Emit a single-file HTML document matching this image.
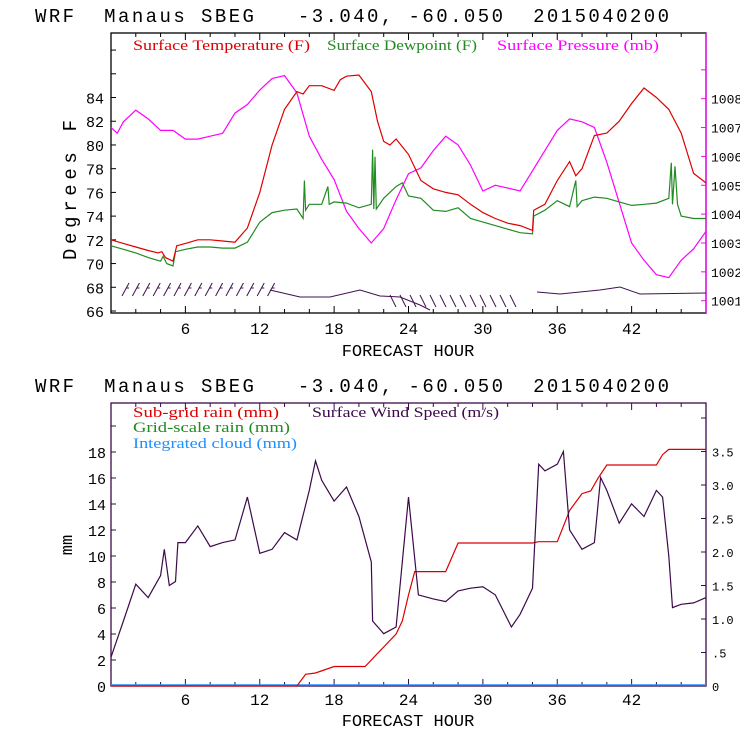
<!DOCTYPE html>
<html><head><meta charset="utf-8"><style>
body{margin:0;background:#fff;width:740px;height:740px;overflow:hidden}
svg text{font-family:"Liberation Mono",monospace}
.lg{font-family:"Liberation Serif",serif;font-size:15px}
.ttl{white-space:pre}
</style></head><body>
<svg id="c" width="740" height="740" xmlns="http://www.w3.org/2000/svg"></svg>
<script>
const tempHours=[0,1,2,3,3.8,4.1,4.4,5,5.1,5.3,6,7,8,9,10,11,12,13,14,15,15.5,16,17,18,18.5,19,20,21,21.5,22,22.5,23,24,25,26,27,28,29,30,31,32,33,34,34.1,35,36,37,37.5,38,39,40,41,42,43,44,45,46,47,48];
const tempVals=[72,71.7,71.4,71.1,70.9,71,70.5,70.2,70.6,71.5,71.7,72,72,71.9,71.8,73,76,80,83,84.5,84.3,85,85,84.6,85.5,85.8,85.9,84.5,82,80.3,80,80.5,79.2,77,76.3,76,75.8,75,74.3,73.8,73.4,73.2,72.8,74.5,75,77,78.6,77.4,78,80.8,81,82,83.5,84.8,84,83,81,77.6,76.8];
const dewHours=[0,1,2,3,4,4.2,4.5,5,5.2,6,7,8,9,10,11,12,13,14,15,15.5,15.6,15.7,16,17,17.5,17.6,18,19,20,21,21.1,21.2,21.3,21.4,22,23,23.5,24,25,26,27,28,29,30,31,32,33,34,34.1,35,36,37,37.5,37.6,38,39,40,41,42,43,44,45,45.2,45.3,45.5,45.7,46,47,48];
const dewVals=[71.5,71.2,70.9,70.5,70.2,70.6,70,69.8,71,71.2,71.4,71.4,71.3,71.3,71.8,73.5,74.3,74.5,74.6,73.8,77,74.5,75,75,76.5,75,75.2,75.1,74.7,75,79.6,74.6,79,74.6,75.5,76.5,76.8,75.7,75.5,74.5,74.4,74.7,73.8,73.5,73.2,72.9,72.6,72.5,74,74.5,75.3,74.8,77,74.8,75.3,75.6,75.5,75.2,74.9,75,75.1,75.5,78.5,75,78.2,75,74,73.8,73.8];
const presHours=[0,0.5,1,2,3,4,5,6,7,8,9,10,11,12,13,14,15,16,17,18,19,20,21,22,23,24,25,26,27,28,29,30,31,32,33,34,35,36,37,38,39,40,41,42,43,44,45,46,47,48];
const presVals=[1007.0,1006.8,1007.2,1007.6,1007.3,1006.9,1006.9,1006.6,1006.6,1006.7,1006.8,1007.5,1007.8,1008.3,1008.7,1008.8,1008.2,1006.7,1005.9,1005.2,1004.1,1003.5,1003.0,1003.5,1004.5,1005.4,1005.6,1006.2,1006.7,1006.4,1005.7,1004.8,1005.0,1004.9,1004.8,1005.5,1006.2,1006.9,1007.3,1007.2,1007.0,1005.8,1004.4,1003.0,1002.4,1001.9,1001.8,1002.4,1002.8,1003.4];
const windHours=[0,1,2,3,4,4.3,4.7,5.2,5.4,6,7,8,9,10,11,12,13,14,15,16,16.5,17,18,19,20,21,21.1,22,23,24,24.8,26,27,28,29,30,31,32.3,33,34,34.5,35,36,36.5,37,38,39,39.5,40,41,42,43,44,44.5,45,45.3,46,47,48];
const windVals=[0.43,0.97,1.52,1.32,1.65,2.04,1.5,1.56,2.14,2.14,2.39,2.08,2.14,2.18,2.82,1.98,2.04,2.29,2.18,2.92,3.36,3.07,2.76,2.97,2.53,1.85,0.97,0.78,0.88,2.82,1.36,1.3,1.26,1.42,1.46,1.48,1.36,0.88,1.07,1.46,3.31,3.21,3.31,3.5,2.33,2.04,2.14,3.11,2.92,2.43,2.72,2.53,2.92,2.82,1.94,1.17,1.22,1.24,1.32];
const rainHours=[0,15,15.7,16.5,18,20.5,22,23,23.5,24,24.5,27,28,34,34.5,36,37,38,38.7,39.3,40,44,44.5,45,48];
const rainVals=[0,0,0.9,1,1.5,1.5,3,4,5,7,8.8,8.8,11,11,11.1,11.1,13.5,14.8,15,16,17,17,17.8,18.2,18.2];
const xLabels=[6,12,18,24,30,36,42];
const tempTicks=[66,68,70,72,74,76,78,80,82,84];
const presTicks=[1001,1002,1003,1004,1005,1006,1007,1008];
const mmTicks=[0,2,4,6,8,10,12,14,16,18];
const msTicks=["0",".5","1.0","1.5","2.0","2.5","3.0","3.5"];

const S=document.getElementById('c');const NS='http://www.w3.org/2000/svg';
function el(t,a,txt){const e=document.createElementNS(NS,t);for(const k in a)e.setAttribute(k,a[k]);if(txt!==undefined)e.textContent=txt;S.appendChild(e);return e;}
const X0=111,X1=706;
const x=h=>X0+h*(X1-X0)/48;
const yT=v=>311-(v-66)*11.86;
const yP=v=>300.7-(v-1001)*28.86;
const yMM=v=>686-v*13.0;
const yMS=v=>686-v*67;
function poly(hs,vs,fy,col,name,w){const p=hs.map((h,i)=>x(h).toFixed(1)+','+fy(vs[i]).toFixed(1)).join(' ');
const e=el('polyline',{points:p,fill:'none',stroke:col,'stroke-width':w||1.2});

}
function title(y,n){const t=el('text',{x:35,y:y,'font-size':19,fill:'#000',class:'ttl',textLength:634,lengthAdjust:'spacing'},'WRF  Manaus SBEG   -3.040, -60.050  2015040200');

}
title(22,'top-chart-title');title(392,'bottom-chart-title');

// top frame
let f=el('rect',{x:X0,y:33,width:X1-X0,height:280,fill:'none',stroke:'#000','stroke-width':1.3});


el('line',{x1:X1,y1:33,x2:X1,y2:313,stroke:'#f0f','stroke-width':1.3});
for(let h=2;h<48;h+=2){el('line',{x1:x(h),y1:313,x2:x(h),y2:h%6?309:306,stroke:'#000'});el('line',{x1:x(h),y1:33,x2:x(h),y2:h%6?37:40,stroke:'#000'});}
xLabels.forEach(h=>{const t=el('text',{x:x(h),y:334,'font-size':16,'text-anchor':'middle'},h);

});
for(let v=66;v<=88;v+=2){el('line',{x1:X0,y1:yT(v),x2:X0+5,y2:yT(v),stroke:'#000'});}
tempTicks.forEach(v=>{const t=el('text',{x:104,y:yT(v)+6,'font-size':15,'text-anchor':'end'},v);

});
for(let v=1001;v<=1009;v++){el('line',{x1:X1-5,y1:yP(v),x2:X1,y2:yP(v),stroke:'#f0f'});}
presTicks.forEach(v=>{const t=el('text',{x:711,y:yP(v)+5,'font-size':13},v);

});
let yl=el('text',{x:76,y:190,'font-size':19,'text-anchor':'middle',transform:'rotate(-90 76 190)',textLength:140,lengthAdjust:'spacing'},'Degrees F');


let xl=el('text',{x:408,y:356,'font-size':17,'text-anchor':'middle'},'FORECAST HOUR');


[['Surface Temperature (F)',133,'#d00',177],['Surface Dewpoint (F)',327,'#228b22',150],['Surface Pressure (mb)',497,'#f0f',162]].forEach(a=>{const t=el('text',{x:a[1],y:50,fill:a[2],class:'lg',textLength:a[3],lengthAdjust:'spacingAndGlyphs'},a[0]);

});
poly(presHours,presVals,yP,'#f0f','pressure-line');
poly(dewHours,dewVals,yT,'#228b22','dewpoint-line');
poly(tempHours,tempVals,yT,'#d00','temperature-line');
// wind barbs (decorative)
for(let i=0;i<15;i++){const bx=122+i*10.4;el('line',{x1:bx,y1:296,x2:bx+7,y2:283,stroke:'#401050'});el('line',{x1:bx+4,y1:288,x2:bx+7,y2:288,stroke:'#401050'});}
el('polyline',{points:'270,290 300,297 330,297 360,290 380,296 400,297 420,305 430,310',fill:'none',stroke:'#401050'});
for(let i=0;i<13;i++){const bx=390+i*10;el('line',{x1:bx,y1:295,x2:bx+6,y2:307,stroke:'#401050'});}
el('polyline',{points:'537,292 560,294 600,290 620,287 640,294 706,293',fill:'none',stroke:'#401050'});

// bottom frame
f=el('rect',{x:X0,y:403,width:X1-X0,height:283,fill:'none',stroke:'#3c0a4a','stroke-width':1.3});


for(let h=2;h<48;h+=2){el('line',{x1:x(h),y1:686,x2:x(h),y2:h%6?682:679,stroke:'#3c0a4a'});el('line',{x1:x(h),y1:403,x2:x(h),y2:h%6?407:410,stroke:'#3c0a4a'});}
xLabels.forEach(h=>{const t=el('text',{x:x(h),y:705,'font-size':16,'text-anchor':'middle'},h);

});
for(let v=0;v<=20;v+=2){el('line',{x1:X0,y1:yMM(v),x2:X0+5,y2:yMM(v),stroke:'#3c0a4a'});}
mmTicks.forEach(v=>{const t=el('text',{x:106,y:yMM(v)+6,'font-size':15,'text-anchor':'end'},v);

});
for(let i=0;i<=8;i++){el('line',{x1:X1-5,y1:yMS(i*0.5),x2:X1,y2:yMS(i*0.5),stroke:'#3c0a4a'});}
msTicks.forEach((v,i)=>{const t=el('text',{x:712,y:yMS(i*0.5)+5,'font-size':12},v);

});
yl=el('text',{x:72,y:545,'font-size':17,'text-anchor':'middle',transform:'rotate(-90 72 545)'},'mm');


xl=el('text',{x:408,y:726,'font-size':17,'text-anchor':'middle'},'FORECAST HOUR');


[['Sub-grid rain (mm)',133,417,'#d00',146],['Surface Wind Speed (m/s)',312,417,'#3c0a4a',187],['Grid-scale rain (mm)',133,432,'#228b22',157],['Integrated cloud (mm)',133,448,'#1e8fff',164]].forEach(a=>{const t=el('text',{x:a[1],y:a[2],fill:a[3],class:'lg',textLength:a[4],lengthAdjust:'spacingAndGlyphs'},a[0]);

});
el('line',{x1:X0,y1:685,x2:X1,y2:685,stroke:'#1e8fff','stroke-width':1.5});
poly(rainHours,rainVals,yMM,'#d00','subgrid-rain-line');
poly(windHours,windVals,yMS,'#3c0a4a','wind-speed-line');
</script></body></html>
